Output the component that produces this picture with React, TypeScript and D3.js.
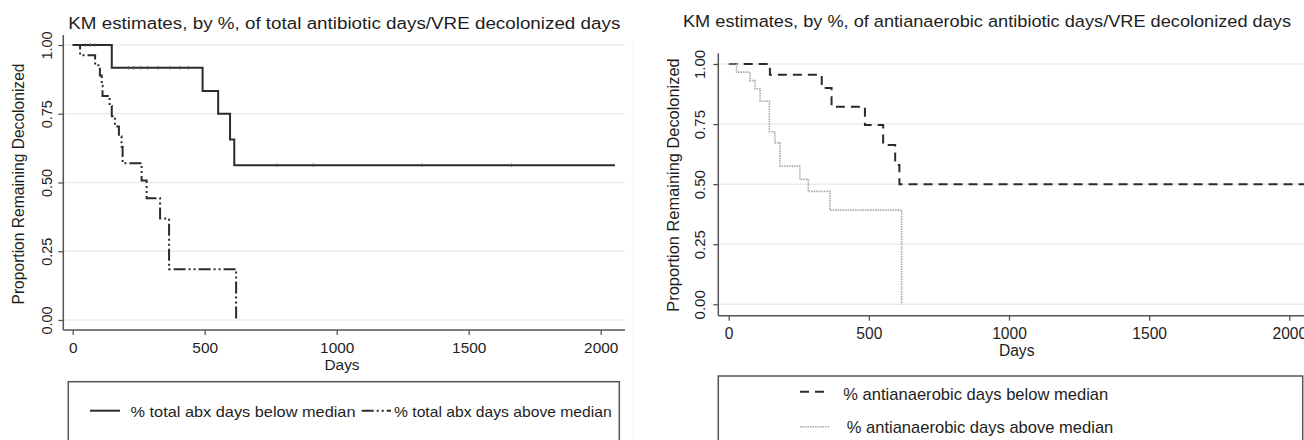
import React, { useEffect, useRef } from 'react';
import * as d3 from 'd3';

const FONT = '"Liberation Sans", Arial, Helvetica, sans-serif';
const INK = '#1e1e1e';
const AXIS = '#555555';

const yTicks = [0, 0.25, 0.5, 0.75, 1];
const xTicks = [0, 500, 1000, 1500, 2000];

// left panel: % of total antibiotic days
const totalBelowDays = [0, 148, 492, 551, 596, 612, 2054];
const totalBelowSurv = [1, 0.917, 0.833, 0.75, 0.656, 0.563, 0.563];
const totalBelowCensored = [47, 66, 84, 211, 232, 258, 283, 324, 369, 406, 438, 773, 911, 1322, 1663];
const totalAboveDays = [0, 28, 85, 103, 110, 113, 140, 148, 160, 175, 185, 189, 261, 280, 331, 365, 619];
const totalAboveSurv = [1, 0.963, 0.926, 0.889, 0.852, 0.815, 0.778, 0.741, 0.704, 0.667, 0.63, 0.57, 0.507, 0.443, 0.369, 0.185, 0];

// right panel: % of antianaerobic antibiotic days
const anaBelowDays = [0, 147, 332, 367, 486, 551, 594, 609, 2060];
const anaBelowSurv = [1, 0.955, 0.9, 0.822, 0.746, 0.663, 0.58, 0.5, 0.5];
const anaAboveDays = [0, 28, 76, 94, 112, 145, 165, 183, 254, 284, 361, 617];
const anaAboveSurv = [1, 0.966, 0.931, 0.897, 0.845, 0.718, 0.672, 0.575, 0.52, 0.47, 0.392, 0];

const yTitle = 'Proportion Remaining Decolonized';
const xTitle = 'Days';
const leftTitle = 'KM estimates, by %, of total antibiotic days/VRE decolonized days';
const rightTitle = 'KM estimates, by %, of antianaerobic antibiotic days/VRE decolonized days';
const leftLabels = ['% total abx days below median', '% total abx days above median'];
const rightLabels = ['% antianaerobic days below median', '% antianaerobic days above median'];

const DASH_DOT = '12,3,2,3,2,3';
const DASH = '9,6';
const DOT = '1.5,1';

const panels = [
  {
    title: leftTitle, titleX: 68.3, titleY: 29, titleLen: 552, titleSize: 15.8,
    x: d3.scaleLinear().domain([0, 2000]).range([72.7, 600.7]),
    y: d3.scaleLinear().domain([0, 1]).range([320, 45]),
    left: 63.3, right: 625, top: 35, bottom: 330,
    yTickX: 51.5, yTickSize: 14.5, yTitleX: 24, yTitleY: 184, yTitleSize: 15.6,
    xTickY: 352.7, xTickSize: 15.4, xTitleX: 342, xTitleY: 370.3,
    series: [
      { days: totalBelowDays, surv: totalBelowSurv, censored: totalBelowCensored, dash: null, color: '#2b2b2b', width: 2 },
      { days: totalAboveDays, surv: totalAboveSurv, censored: [], dash: DASH_DOT, color: '#2b2b2b', width: 2 },
    ],
    legend: {
      box: [68.3, 381.7, 551, 80],
      items: [
        { label: leftLabels[0], x1: 90, x2: 120, ly: 410.7, tx: 130.5, ty: 416.5, len: 225, size: 15 },
        { label: leftLabels[1], x1: 361.7, x2: 391, ly: 410.7, tx: 394, ty: 416.5, len: 217.7, size: 15 },
      ],
    },
  },
  {
    title: rightTitle, titleX: 683, titleY: 26.5, titleLen: 608, titleSize: 16.3,
    x: d3.scaleLinear().domain([0, 2000]).range([728.7, 1289.3]),
    y: d3.scaleLinear().domain([0, 1]).range([304.3, 64]),
    left: 718.3, right: 1315, top: 53.3, bottom: 315.7,
    yTickX: 705, yTickSize: 15, yTitleX: 678.5, yTitleY: 185, yTitleSize: 16.4,
    xTickY: 339.3, xTickSize: 15.6, xTitleX: 1016.7, xTitleY: 356.3,
    series: [
      { days: anaBelowDays, surv: anaBelowSurv, censored: [], dash: DASH, color: '#2b2b2b', width: 2 },
      { days: anaAboveDays, surv: anaAboveSurv, censored: [], dash: DOT, color: '#a8a8a8', width: 1.6 },
    ],
    legend: {
      box: [718.3, 376, 584.4, 90],
      items: [
        { label: rightLabels[0], x1: 800, x2: 830, ly: 391.7, tx: 843.3, ty: 399.5, len: 265, size: 16.2 },
        { label: rightLabels[1], x1: 800, x2: 830, ly: 426.7, tx: 846.7, ty: 433.3, len: 266.6, size: 16.2 },
      ],
    },
  },
];

function survAt(days, surv, t) {
  let s = surv[0];
  for (let i = 0; i < days.length; i++) if (days[i] <= t) s = surv[i];
  return s;
}

function drawPanel(root, p) {
  const g = root.append('g');
  const { x, y } = p;

  // gridlines
  g.selectAll('line.grid')
    .data(yTicks)
    .enter().append('line')
    .attr('class', 'grid')
    .attr('x1', p.left).attr('x2', p.right)
    .attr('y1', d => y(d)).attr('y2', d => y(d))
    .attr('stroke', '#ebebeb')
    .attr('stroke-width', 1.5);

  // y axis
  const ya = g.append('g')
    .attr('transform', `translate(${p.left},0)`)
    .call(d3.axisLeft(y).tickValues(yTicks).tickSize(5).tickFormat(d3.format('.2f')));
  ya.select('.domain').remove();
  ya.attr('color', AXIS);
  ya.selectAll('line').attr('stroke-width', 1.3);
  ya.selectAll('text')
    .attr('x', null).attr('dy', null)
    .attr('transform', `translate(${p.yTickX - p.left},0) rotate(-90)`)
    .attr('text-anchor', 'middle')
    .attr('fill', INK)
    .style('font-family', FONT)
    .style('font-size', p.yTickSize + 'px');

  // x axis
  const xa = g.append('g')
    .attr('transform', `translate(0,${p.bottom})`)
    .call(d3.axisBottom(x).tickValues(xTicks).tickSize(5).tickFormat(d3.format('d')));
  xa.select('.domain').remove();
  xa.attr('color', AXIS);
  xa.selectAll('line').attr('stroke-width', 1.3);
  xa.selectAll('text')
    .attr('y', p.xTickY - p.bottom).attr('dy', null)
    .attr('fill', INK)
    .style('font-family', FONT)
    .style('font-size', p.xTickSize + 'px');

  // axis lines
  g.append('line')
    .attr('x1', p.left).attr('x2', p.left).attr('y1', p.top).attr('y2', p.bottom)
    .attr('stroke', AXIS).attr('stroke-width', 1.5);
  g.append('line')
    .attr('x1', p.left).attr('x2', p.right).attr('y1', p.bottom).attr('y2', p.bottom)
    .attr('stroke', AXIS).attr('stroke-width', 1.5);

  // curves
  const line = d3.line()
    .x(d => x(d[0]))
    .y(d => y(d[1]))
    .curve(d3.curveStepAfter);

  p.series.forEach(s => {
    g.append('path')
      .datum(d3.zip(s.days, s.surv))
      .attr('d', line)
      .attr('fill', 'none')
      .attr('stroke', s.color)
      .attr('stroke-width', s.width)
      .attr('stroke-dasharray', s.dash);

    // censoring marks, small
    g.selectAll(null)
      .data(s.censored)
      .enter().append('line')
      .attr('x1', d => x(d)).attr('x2', d => x(d))
      .attr('y1', d => y(survAt(s.days, s.surv, d)) - 1.8)
      .attr('y2', d => y(survAt(s.days, s.surv, d)) + 1.8)
      .attr('stroke', '#555')
      .attr('stroke-width', 0.8);
  });

  // titles
  g.append('text')
    .attr('x', p.titleX).attr('y', p.titleY)
    .attr('textLength', p.titleLen)
    .attr('lengthAdjust', 'spacingAndGlyphs')
    .attr('fill', INK)
    .style('font-family', FONT)
    .style('font-size', p.titleSize + 'px')
    .text(p.title);

  g.append('text')
    .attr('transform', `translate(${p.yTitleX},${p.yTitleY}) rotate(-90)`)
    .attr('text-anchor', 'middle')
    .attr('fill', INK)
    .style('font-family', FONT)
    .style('font-size', p.yTitleSize + 'px')
    .text(yTitle);

  g.append('text')
    .attr('x', p.xTitleX).attr('y', p.xTitleY)
    .attr('text-anchor', 'middle')
    .attr('fill', INK)
    .style('font-family', FONT)
    .style('font-size', p.xTickSize + 'px')
    .text(xTitle);

  // legend
  const [bx, by, bw, bh] = p.legend.box;
  g.append('rect')
    .attr('x', bx).attr('y', by).attr('width', bw).attr('height', bh)
    .attr('fill', 'white')
    .attr('stroke', AXIS)
    .attr('stroke-width', 1.5);

  p.legend.items.forEach((it, i) => {
    const s = p.series[i];
    g.append('line')
      .attr('x1', it.x1).attr('x2', it.x2).attr('y1', it.ly).attr('y2', it.ly)
      .attr('stroke', s.color)
      .attr('stroke-width', s.width)
      .attr('stroke-dasharray', s.dash);
    g.append('text')
      .attr('x', it.tx).attr('y', it.ty)
      .attr('textLength', it.len)
      .attr('lengthAdjust', 'spacingAndGlyphs')
      .attr('fill', INK)
      .style('font-family', FONT)
      .style('font-size', it.size + 'px')
      .text(it.label);
  });
}

const App = () => {
  const svgRef = useRef(null);

  useEffect(() => {
    const svg = d3.select(svgRef.current);
    svg.selectAll('*').remove();

    svg.append('rect')
      .attr('width', 1304).attr('height', 440)
      .attr('fill', 'white');

    // faint edge of the left figure
    svg.append('line')
      .attr('x1', 633).attr('x2', 633).attr('y1', 40).attr('y2', 440)
      .attr('stroke', '#f1f1f1').attr('stroke-width', 1);

    panels.forEach(p => drawPanel(svg, p));
  }, []);

  return (
    <svg
      ref={svgRef}
      width={1304}
      height={440}
      style={{ position: 'absolute', left: 0, top: 0, display: 'block' }}
    ></svg>
  );
};

export default App;
